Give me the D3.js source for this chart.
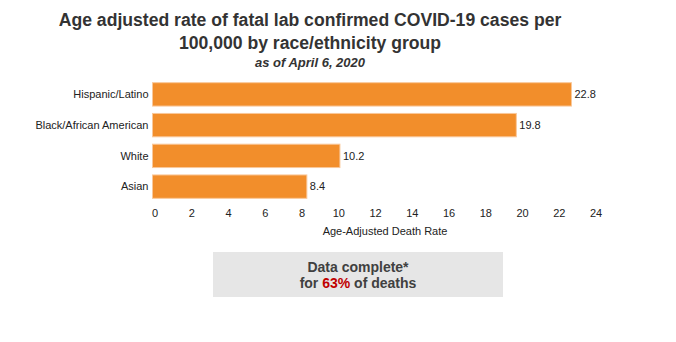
<!DOCTYPE html>
<html><head><meta charset="utf-8">
<script src="https://cdn.jsdelivr.net/npm/d3@7"></script>
<style>body{margin:0;background:#fff;} svg{display:block;font-family:"Liberation Sans",Arial,sans-serif;}</style>
</head><body>
<svg id="c" width="676" height="342"></svg>
<script>
const categories = ["Hispanic/Latino","Black/African American","White","Asian"];
const values = [22.8, 19.8, 10.2, 8.4];
const ticks = [0,2,4,6,8,10,12,14,16,18,20,22,24];

const svg = d3.select("#c");
const x = d3.scaleLinear().domain([0,24]).range([152.5,593.5]);
const y = d3.scaleBand().domain(categories).range([79,202]).paddingInner(0.24).paddingOuter(0.12);

// title
const tc = 310;
svg.append("text").attr("x",tc).attr("y",26).attr("text-anchor","middle").attr("font-size",17.6).attr("font-weight","bold").attr("fill","#333").text("Age adjusted rate of fatal lab confirmed COVID-19 cases per");
svg.append("text").attr("x",tc).attr("y",49).attr("text-anchor","middle").attr("font-size",17.6).attr("font-weight","bold").attr("fill","#333").text("100,000 by race/ethnicity group");
svg.append("text").attr("x",tc).attr("y",67).attr("text-anchor","middle").attr("font-size",13).attr("font-weight","bold").attr("font-style","italic").attr("fill","#333").text("as of April 6, 2020");

const data = categories.map((c,i)=>({c, v: values[i]}));
svg.selectAll("rect.bar").data(data).join("rect").attr("class","bar")
  .attr("x",x(0)).attr("y",d=>y(d.c)).attr("width",d=>x(d.v)-x(0)).attr("height",y.bandwidth())
  .attr("fill","#F28E2B").attr("stroke","#F9C89B").attr("stroke-width",1);

svg.selectAll("text.val").data(data).join("text").attr("class","val")
  .attr("x",d=>x(d.v)+3).attr("y",d=>y(d.c)+y.bandwidth()/2).attr("dy","0.35em")
  .attr("font-size",11).attr("fill","#222").text(d=>d.v.toFixed(1));

svg.selectAll("text.cat").data(data).join("text").attr("class","cat")
  .attr("x",x(0)-4).attr("y",d=>y(d.c)+y.bandwidth()/2).attr("dy","0.35em").attr("text-anchor","end")
  .attr("font-size",11).attr("fill","#222").text(d=>d.c);

const ax = svg.append("g").attr("transform","translate(0,206)")
  .call(d3.axisBottom(x).tickValues(ticks).tickSize(0).tickPadding(3).tickFormat(d3.format("d")));
ax.select(".domain").remove();
ax.selectAll("text").attr("font-size",11).attr("fill","#222").attr("dx",2).attr("font-family","Liberation Sans, Arial, sans-serif");

svg.append("text").attr("x",385).attr("y",235).attr("text-anchor","middle").attr("font-size",11).attr("fill","#222").text("Age-Adjusted Death Rate");

// note box
svg.append("rect").attr("x",213).attr("y",252).attr("width",290).attr("height",45).attr("fill","#e6e6e6");
svg.append("text").attr("x",358).attr("y",272).attr("text-anchor","middle").attr("font-size",14).attr("font-weight","bold").attr("fill","#404040").text("Data complete*");
const t2 = svg.append("text").attr("x",358).attr("y",287.5).attr("text-anchor","middle").attr("font-size",14).attr("font-weight","bold").attr("fill","#404040");
t2.append("tspan").text("for ");
t2.append("tspan").attr("fill","#C00000").text("63%");
t2.append("tspan").text(" of deaths");
</script>
</body></html>
